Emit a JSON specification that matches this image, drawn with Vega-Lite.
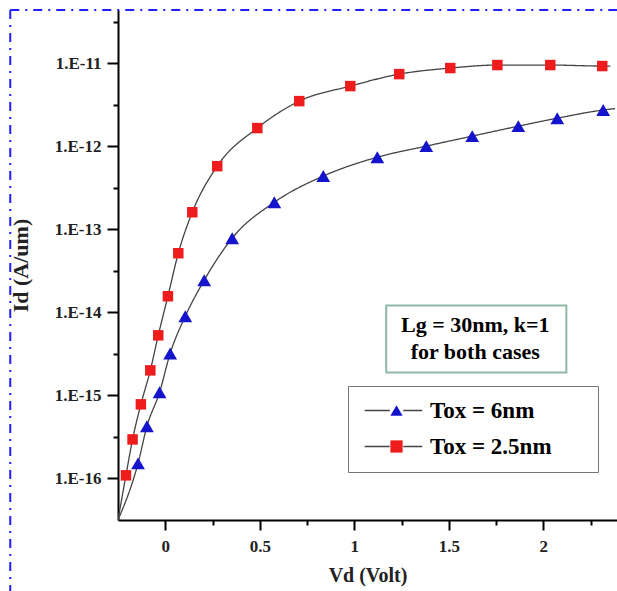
{
  "$schema": "https://vega.github.io/schema/vega-lite/v6.json",
  "width": 499,
  "height": 510,
  "autosize": {"type": "none"},
  "padding": {"left": 118, "top": 10, "right": 0, "bottom": 71},
  "background": "white",
  "config": {"view": {"stroke": null}, "font": "Liberation Serif"},
  "layer": [
    {
      "data": {"values": [{}]},
      "mark": {"type": "rule", "clip": false, "color": "#1f1fff", "strokeWidth": 2, "strokeDash": [9, 6, 2, 6]},
      "encoding": {"x": {"datum": -0.82}, "x2": {"datum": 2.39}, "y": {"datum": 4.35e-11}}
    },
    {
      "data": {"values": [{}]},
      "mark": {"type": "rule", "clip": false, "color": "#1f1fff", "strokeWidth": 2, "strokeDash": [9, 6, 2, 6]},
      "encoding": {"x": {"datum": -0.82}, "y": {"datum": 4.35e-11}, "y2": {"datum": 4e-18}}
    },
    {
      "data": {"values": [{}]},
      "mark": {"type": "rect", "fill": "transparent", "stroke": "#8dbaa6", "strokeWidth": 2},
      "encoding": {"x": {"datum": 1.169}, "x2": {"datum": 2.122}, "y": {"datum": 1.21e-14}, "y2": {"datum": 1.89e-15}}
    },
    {
      "data": {"values": [{"note": "Lg = 30nm, k=1\nfor both cases", "V": 1.64, "I": 6.97e-15}]},
      "mark": {"type": "text", "font": "Liberation Serif", "fontWeight": "bold", "fontSize": 22, "lineBreak": "\n", "lineHeight": 27, "align": "center", "baseline": "middle", "color": "black"},
      "encoding": {"x": {"field": "V", "type": "quantitative"}, "y": {"field": "I", "type": "quantitative"}, "text": {"field": "note"}}
    },
    {
      "data": {"values": [
        {"curve": "Tox = 2.5nm", "V": -0.25, "I": 3.1623e-17},
        {"curve": "Tox = 2.5nm", "V": -0.208, "I": 1.09e-16},
        {"curve": "Tox = 2.5nm", "V": -0.173, "I": 2.95e-16},
        {"curve": "Tox = 2.5nm", "V": -0.129, "I": 7.8e-16},
        {"curve": "Tox = 2.5nm", "V": -0.079, "I": 2.0e-15},
        {"curve": "Tox = 2.5nm", "V": -0.037, "I": 5.28e-15},
        {"curve": "Tox = 2.5nm", "V": 0.014, "I": 1.56e-14},
        {"curve": "Tox = 2.5nm", "V": 0.069, "I": 5.14e-14},
        {"curve": "Tox = 2.5nm", "V": 0.143, "I": 1.6e-13},
        {"curve": "Tox = 2.5nm", "V": 0.275, "I": 5.74e-13},
        {"curve": "Tox = 2.5nm", "V": 0.487, "I": 1.65e-12},
        {"curve": "Tox = 2.5nm", "V": 0.709, "I": 3.48e-12},
        {"curve": "Tox = 2.5nm", "V": 0.979, "I": 5.28e-12},
        {"curve": "Tox = 2.5nm", "V": 1.238, "I": 7.36e-12},
        {"curve": "Tox = 2.5nm", "V": 1.508, "I": 8.7e-12},
        {"curve": "Tox = 2.5nm", "V": 1.757, "I": 9.46e-12},
        {"curve": "Tox = 2.5nm", "V": 2.037, "I": 9.46e-12},
        {"curve": "Tox = 2.5nm", "V": 2.312, "I": 9.2e-12},
        {"curve": "Tox = 2.5nm", "V": 2.355, "I": 9.2e-12},
        {"curve": "Tox = 6nm", "V": -0.25, "I": 3.1623e-17},
        {"curve": "Tox = 6nm", "V": -0.144, "I": 1.52e-16},
        {"curve": "Tox = 6nm", "V": -0.097, "I": 4.24e-16},
        {"curve": "Tox = 6nm", "V": -0.03, "I": 1.09e-15},
        {"curve": "Tox = 6nm", "V": 0.026, "I": 3.2e-15},
        {"curve": "Tox = 6nm", "V": 0.106, "I": 8.95e-15},
        {"curve": "Tox = 6nm", "V": 0.206, "I": 2.43e-14},
        {"curve": "Tox = 6nm", "V": 0.354, "I": 7.8e-14},
        {"curve": "Tox = 6nm", "V": 0.577, "I": 2.11e-13},
        {"curve": "Tox = 6nm", "V": 0.836, "I": 4.36e-13},
        {"curve": "Tox = 6nm", "V": 1.122, "I": 7.36e-13},
        {"curve": "Tox = 6nm", "V": 1.381, "I": 1.0e-12},
        {"curve": "Tox = 6nm", "V": 1.624, "I": 1.32e-12},
        {"curve": "Tox = 6nm", "V": 1.868, "I": 1.74e-12},
        {"curve": "Tox = 6nm", "V": 2.074, "I": 2.17e-12},
        {"curve": "Tox = 6nm", "V": 2.317, "I": 2.72e-12},
        {"curve": "Tox = 6nm", "V": 2.38, "I": 2.83e-12}
      ]},
      "mark": {"type": "line", "color": "#444444", "strokeWidth": 1.3, "interpolate": "monotone", "clip": true},
      "encoding": {
        "x": {
          "field": "V", "type": "quantitative",
          "scale": {"domain": [-0.25, 2.39], "nice": false, "zero": false},
          "axis": {
            "title": "Vd (Volt)",
            "values": [0, 0.25, 0.5, 0.75, 1, 1.25, 1.5, 1.75, 2, 2.25],
            "format": "~g",
            "labelExpr": "datum.value % 0.5 === 0 ? datum.label : ''",
            "grid": false,
            "domainColor": "black", "domainWidth": 2,
            "tickColor": "black", "tickWidth": 2,
            "tickSize": {"condition": {"test": "datum.value % 0.5 === 0", "value": 10}, "value": 5},
            "labelFont": "Liberation Serif", "labelFontWeight": "bold", "labelFontSize": 17, "labelColor": "#222222",
            "labelPadding": 8,
            "titleFont": "Liberation Serif", "titleFontWeight": "bold", "titleFontSize": 20, "titleColor": "#222222",
            "titlePadding": 11
          }
        },
        "y": {
          "field": "I", "type": "quantitative",
          "scale": {"type": "log", "domain": [3.1623e-17, 4.35e-11], "nice": false},
          "axis": {
            "title": "Id (A/um)",
            "values": [1e-16, 3.1623e-16, 1e-15, 3.1623e-15, 1e-14, 3.1623e-14, 1e-13, 3.1623e-13, 1e-12, 3.1623e-12, 1e-11, 3.1623e-11],
            "labelExpr": "abs(log(datum.value)/LN10 - round(log(datum.value)/LN10)) < 0.01 ? '1.E' + round(log(datum.value)/LN10) : ''",
            "grid": false,
            "domainColor": "black", "domainWidth": 2,
            "tickColor": "black", "tickWidth": 2,
            "tickSize": {"condition": {"test": "abs(log(datum.value)/LN10 - round(log(datum.value)/LN10)) < 0.01", "value": 11}, "value": 5},
            "labelFont": "Liberation Serif", "labelFontWeight": "bold", "labelFontSize": 17, "labelColor": "#222222",
            "labelPadding": 6,
            "titleFont": "Liberation Serif", "titleFontWeight": "bold", "titleFontSize": 22, "titleColor": "#222222",
            "titlePadding": 22
          }
        },
        "strokeDash": {
          "field": "curve", "type": "nominal",
          "scale": {"range": [[1, 0], [1, 0]]},
          "legend": {
            "orient": "none", "legendX": 230, "legendY": 376, "title": null,
            "padding": 13, "rowPadding": 12, "symbolOffset": 24,
            "labelFont": "Liberation Serif", "labelFontSize": 23, "labelFontWeight": "bold", "labelOpacity": 0,
            "labelOffset": 22, "symbolSize": 150,
            "symbolType": "M-5.2,0L-1.1,0M1.1,0L4.2,0",
            "symbolStrokeColor": "#444444", "symbolStrokeWidth": 1.3, "symbolFillColor": "transparent",
            "labelExpr": "'\u00a0'"
          }
        }
      }
    },
    {
      "data": {"values": [
        {"Tox": "Tox = 2.5nm", "V": -0.208, "I": 1.09e-16},
        {"Tox": "Tox = 2.5nm", "V": -0.173, "I": 2.95e-16},
        {"Tox": "Tox = 2.5nm", "V": -0.129, "I": 7.8e-16},
        {"Tox": "Tox = 2.5nm", "V": -0.079, "I": 2.0e-15},
        {"Tox": "Tox = 2.5nm", "V": -0.037, "I": 5.28e-15},
        {"Tox": "Tox = 2.5nm", "V": 0.014, "I": 1.56e-14},
        {"Tox": "Tox = 2.5nm", "V": 0.069, "I": 5.14e-14},
        {"Tox": "Tox = 2.5nm", "V": 0.143, "I": 1.6e-13},
        {"Tox": "Tox = 2.5nm", "V": 0.275, "I": 5.74e-13},
        {"Tox": "Tox = 2.5nm", "V": 0.487, "I": 1.65e-12},
        {"Tox": "Tox = 2.5nm", "V": 0.709, "I": 3.48e-12},
        {"Tox": "Tox = 2.5nm", "V": 0.979, "I": 5.28e-12},
        {"Tox": "Tox = 2.5nm", "V": 1.238, "I": 7.36e-12},
        {"Tox": "Tox = 2.5nm", "V": 1.508, "I": 8.7e-12},
        {"Tox": "Tox = 2.5nm", "V": 1.757, "I": 9.46e-12},
        {"Tox": "Tox = 2.5nm", "V": 2.037, "I": 9.46e-12},
        {"Tox": "Tox = 2.5nm", "V": 2.312, "I": 9.2e-12},
        {"Tox": "Tox = 6nm", "V": -0.144, "I": 1.52e-16},
        {"Tox": "Tox = 6nm", "V": -0.097, "I": 4.24e-16},
        {"Tox": "Tox = 6nm", "V": -0.03, "I": 1.09e-15},
        {"Tox": "Tox = 6nm", "V": 0.026, "I": 3.2e-15},
        {"Tox": "Tox = 6nm", "V": 0.106, "I": 8.95e-15},
        {"Tox": "Tox = 6nm", "V": 0.206, "I": 2.43e-14},
        {"Tox": "Tox = 6nm", "V": 0.354, "I": 7.8e-14},
        {"Tox": "Tox = 6nm", "V": 0.577, "I": 2.11e-13},
        {"Tox": "Tox = 6nm", "V": 0.836, "I": 4.36e-13},
        {"Tox": "Tox = 6nm", "V": 1.122, "I": 7.36e-13},
        {"Tox": "Tox = 6nm", "V": 1.381, "I": 1.0e-12},
        {"Tox": "Tox = 6nm", "V": 1.624, "I": 1.32e-12},
        {"Tox": "Tox = 6nm", "V": 1.868, "I": 1.74e-12},
        {"Tox": "Tox = 6nm", "V": 2.074, "I": 2.17e-12},
        {"Tox": "Tox = 6nm", "V": 2.317, "I": 2.72e-12}
      ]},
      "mark": {"type": "point", "filled": true, "opacity": 1, "strokeWidth": 0},
      "encoding": {
        "x": {"field": "V", "type": "quantitative"},
        "y": {"field": "I", "type": "quantitative"},
        "fill": {"field": "Tox", "type": "nominal", "scale": {"domain": ["Tox = 6nm", "Tox = 2.5nm"], "range": ["#1414cc", "#ee1c1c"]}, "legend": {
            "orient": "none", "legendX": 230, "legendY": 376,
            "title": "\u00a0", "titleOrient": "right", "titlePadding": 33, "titleFontSize": 6,
            "padding": 13, "rowPadding": 12, "symbolOffset": 24,
            "labelFont": "Liberation Serif", "labelFontSize": 23, "labelFontWeight": "bold", "labelColor": "black",
            "labelOffset": 22, "symbolSize": 150, "symbolStrokeWidth": 0,
            "strokeColor": "#777777"
          }},
        "shape": {"field": "Tox", "type": "nominal", "scale": {"domain": ["Tox = 6nm", "Tox = 2.5nm"], "range": ["triangle-up", "square"]}},
        "size": {"field": "Tox", "type": "nominal", "scale": {"domain": ["Tox = 2.5nm", "Tox = 6nm"], "range": [110, 190]}, "legend": null}
      }
    }
  ]
}
